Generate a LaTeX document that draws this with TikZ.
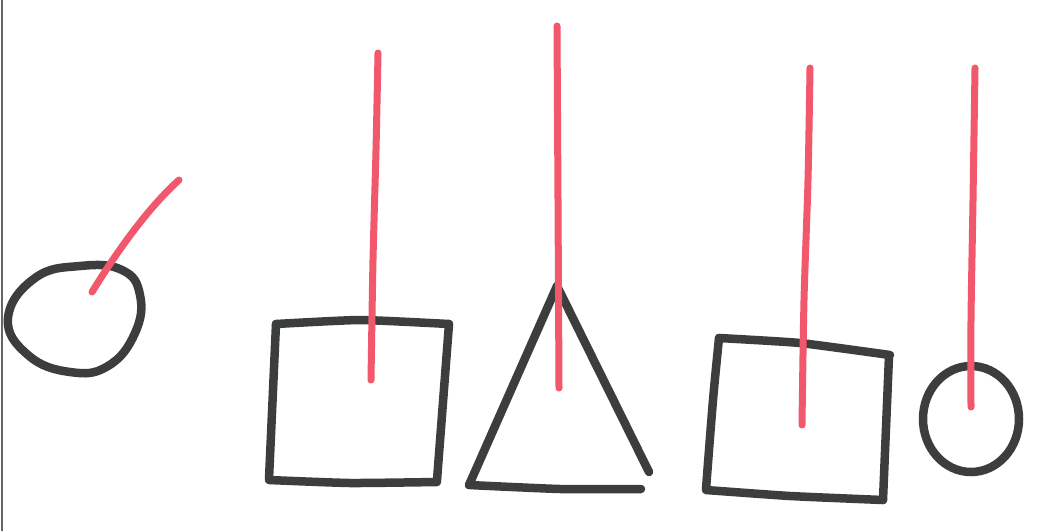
\documentclass[tikz,border=0pt]{standalone}
\definecolor{ink}{RGB}{60,62,62}
\definecolor{marker}{RGB}{242,88,108}
\tikzset{
  shapeline/.style={draw=ink, line width=8.5pt, line cap=round, line join=round},
  redline/.style={draw=marker, line width=7pt, line cap=round, line join=round},
  edgeline/.style={draw=black!60, line width=1.2pt}
}
\begin{document}
\begin{tikzpicture}[x=1pt,y=-1pt]
\useasboundingbox (0,0) rectangle (1038,531);
\fill[white] (0,0) rectangle (1038,531);
% left page edge
\draw[edgeline] (2,0) -- (2,531);
% left blob circle
\draw[shapeline] plot[smooth cycle, tension=0.75] coordinates
  {(8,318) (35,278) (80,266) (122,270) (140,295) (135,333) (108,366) (70,372) (28,355)};
\coordinate (ls) at (92,292);
\coordinate (le) at (179,180);
\draw[redline] (ls) .. controls (118,250) and (148,208) .. (le);
% square 1
\draw[shapeline] plot[smooth, tension=0.3] coordinates {(276,324) (360,320) (449,324)};
\draw[shapeline] (276,324) -- (269,479);
\draw[shapeline] (449,324) -- (437,480);
\draw[shapeline] plot[smooth, tension=0.3] coordinates {(269,480) (350,483) (437,482)};
\draw[redline] plot[smooth, tension=0.5] coordinates {(378,53) (376,150) (373,260) (371,380)};
% triangle
\draw[shapeline] (557,286) -- (469,485);
\draw[shapeline] (557,286) -- (649,472);
\draw[shapeline] plot[smooth, tension=0.3] coordinates {(469,485) (560,489) (641,489)};
\draw[redline] (557,26) -- (558,200) -- (559,388);
% square 2
\draw[shapeline] plot[smooth, tension=0.3] coordinates {(719,338) (800,343) (890,355)};
\draw[shapeline] plot[smooth, tension=0.5] coordinates {(719,338) (713,400) (706,489)};
\draw[shapeline] (889,356) -- (883,500);
\draw[shapeline] plot[smooth, tension=0.3] coordinates {(706,490) (790,496) (883,500)};
\draw[redline] plot[smooth, tension=0.5] coordinates {(810,68) (808,180) (804,300) (802,425)};
% small circle
\draw[shapeline] (971,419) ellipse [x radius=48, y radius=53];
\draw[redline] plot[smooth, tension=0.5] coordinates {(975,68) (973,200) (971,320) (971,407)};
\end{tikzpicture}
\end{document}
